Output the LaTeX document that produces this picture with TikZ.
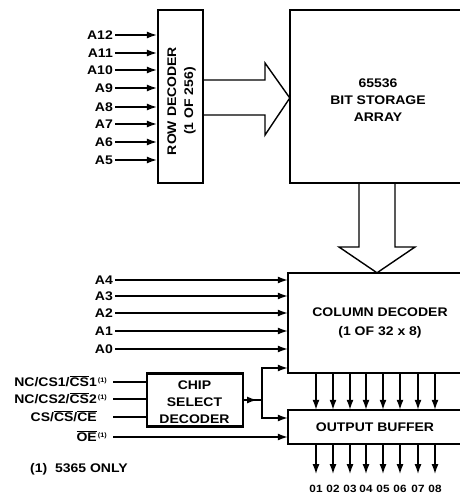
\documentclass[tikz,border=0pt]{standalone}
\usepackage{fontspec}
\setmainfont{Liberation Sans}[FakeStretch=1.12]
\usetikzlibrary{arrows.meta}
\newcommand\myfn{\rlap{\raisebox{4pt}{\fontsize{6.5}{6.5}\selectfont\,(1)}}}
\newcommand\ovl[1]{$\overline{\hbox{#1}}$}
\begin{document}
\begin{tikzpicture}[x=1pt,y=-1pt,
  lbl/.style={font=\bfseries\fontsize{12.5}{15}\selectfont, inner sep=0pt, text height=9pt, text depth=0pt},
  mtxt/.style={font=\bfseries\fontsize{12.5}{17}\selectfont, inner sep=0pt, align=center},
  small/.style={font=\bfseries\fontsize{10.5}{12}\selectfont, inner sep=0pt, text height=7.5pt, text depth=0pt},
  box/.style={draw, line width=2.2pt, inner sep=0pt},
  openbox/.style={inner sep=0pt},
  edge3/.style={line width=2.2pt},
  wire/.style={line width=1.4pt},
  arr/.style={wire, -{Latex[length=10pt,width=7pt]}},
]
\useasboundingbox (0,0) rectangle (460,495);

% ---- boxes
\node[box, minimum width=45pt, minimum height=173pt] (rowdec) at (180.5,96.5) {};
\node[mtxt, rotate=90] (rowtxt) at (181.5,101) {ROW DECODER\\(1 OF 256)};

\node[openbox, minimum width=170pt, minimum height=173pt] (stor) at (375,96.5) {};
\draw[edge3] (stor.north east) -- (stor.north west) -- (stor.south west) -- (stor.south east);
\node[mtxt] (stortxt) at (378,100) {65536\\BIT STORAGE\\ARRAY};

\node[openbox, minimum width=172pt, minimum height=100pt] (coldec) at (374,323) {};
\draw[edge3] (coldec.north east) -- (coldec.north west) -- (coldec.south west) -- (coldec.south east);
\node[mtxt, font=\bfseries\fontsize{12.5}{19}\selectfont] (coltxt) at (380,322.5) {COLUMN DECODER\\(1 OF 32 x 8)};

\node[openbox, minimum width=172pt, minimum height=34pt] (outbuf) at (374,427) {};
\draw[edge3] (outbuf.north east) -- (outbuf.north west) -- (outbuf.south west) -- (outbuf.south east);
\node[lbl] (outtxt) at (375,427) {OUTPUT BUFFER};

\node[box, minimum width=96pt, minimum height=53pt] (csd) at (195,400) {};
\node[mtxt] (csdtxt) at (194.5,402) {CHIP\\SELECT\\DECODER};

% ---- wide arrows
\draw[wire, line join=miter] (rowdec.east |- 0,80) -- (265,80) -- (265,63) -- (stor.west |- 0,98)
  -- (265,135) -- (265,115) -- (rowdec.east |- 0,115);
\draw[wire, line join=miter] (stor.south -| 359,0) -- (359,247) -- (339,247) -- (coldec.north -| 377,0)
  -- (415,247) -- (395,247) -- (stor.south -| 395,0);

% ---- row address inputs
\foreach \n/\y in {12/35,11/53,10/70,9/88,8/107,7/124,6/142,5/160} {
  \node[lbl, anchor=east] (a\n) at (113,\y) {A\n};
  \draw[arr] ([xshift=2pt]a\n.east) -- (rowdec.west |- a\n.east);
}

% ---- column address inputs
\foreach \n/\y in {4/280,3/296,2/313,1/331,0/349} {
  \node[lbl, anchor=east] (a\n) at (113,\y) {A\n};
  \draw[arr] ([xshift=2pt]a\n.east) -- (coldec.west |- a\n.east);
}

% ---- chip select inputs
\node[lbl, anchor=east] (cs1) at (97,382) {NC/CS1/\ovl{CS}1\myfn};
\node[lbl, anchor=east] (cs2) at (97,399) {NC/CS2/\ovl{CS}2\myfn};
\node[lbl, anchor=east] (cs3) at (97,417) {CS/\ovl{CS}/\ovl{CE}};
\node[lbl, anchor=east] (oe) at (97,437) {\ovl{OE}\myfn};
\foreach \c in {cs1,cs2,cs3} {
  \draw[wire] ([xshift=16pt]\c.east) -- (csd.west |- \c.east);
}
\draw[arr] ([xshift=16pt]oe.east) -- (outbuf.west |- oe.east);

% ---- chip select outputs
\coordinate (junc) at (262,400);
\draw[wire] (csd.east) -- (junc);
\draw[arr, shorten >=5pt] (csd.east) -- (junc);
\draw[arr] (junc) |- (coldec.west |- 0,368);
\draw[arr] (junc) |- (outbuf.west |- 0,418);

% ---- data paths and outputs
\foreach \x [count=\i] in {316,333,350,366,383,400,418,435} {
  \draw[arr] (\x,0 |- coldec.south) -- (\x,0 |- outbuf.north);
  \node[small] (o\i) at (\x,489) {0\i};
  \draw[arr, shorten >=11pt] (\x,0 |- outbuf.south) -- (o\i.north);
}

% ---- footnote
\node[lbl, anchor=west] (note) at (30,468) {(1)\ \ 5365 ONLY};
\end{tikzpicture}
\end{document}
